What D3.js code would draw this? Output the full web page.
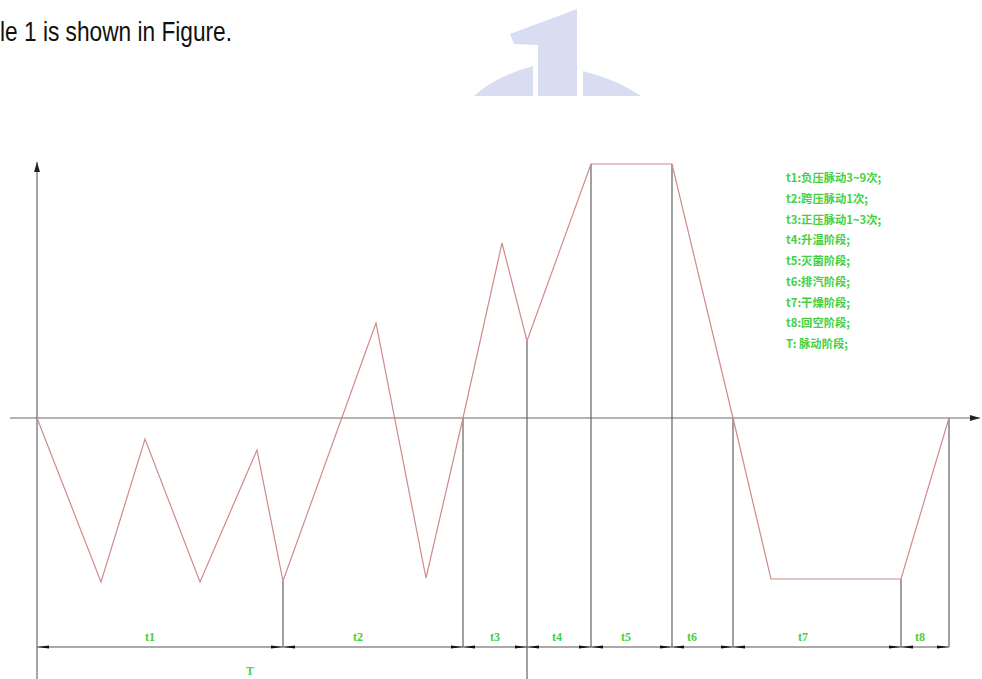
<!DOCTYPE html>
<html><head><meta charset="utf-8">
<script src="https://cdn.jsdelivr.net/npm/d3@7/dist/d3.min.js"></script>
<style>html,body{margin:0;padding:0;background:#fff;overflow:hidden}</style>
</head><body><svg id="c" width="982" height="679"></svg>
<script>
// ---- data ----
const timePts  = [0, 6.4, 10.8, 16.3, 22.0, 24.6, 33.9, 38.9, 42.6, 46.5, 49.0, 55.4, 63.5, 69.6, 73.4, 86.4, 91.2];
const pressure = [0, -16.4, -2.1, -16.4, -3.2, -16.3, 9.5, -16.0, 0, 17.5, 7.7, 25.4, 25.4, 0, -16.1, -16.1, 0];
const phaseNames  = ['t1','t2','t3','t4','t5','t6','t7','t8'];
const phaseBounds = [0, 24.6, 42.6, 49.0, 55.4, 63.5, 69.6, 86.4, 91.2];
const phaseLabelAt = [11.3, 32.1, 45.8, 52.0, 58.9, 65.5, 76.6, 88.3];
const cycleName   = 'T';
const cycleBounds = [0, 49.0];
const cycleLabelAt = 21.3;
const legendLines = ['t1:负压脉动3~9次;','t2:跨压脉动1次;','t3:正压脉动1~3次;','t4:升温阶段;','t5:灭菌阶段;','t6:排汽阶段;','t7:干燥阶段;','t8:回空阶段;','T: 脉动阶段;'];
const captionText = 'le 1 is shown in Figure.';

// ---- layout ----
const svg = d3.select('#c');
const x = d3.scaleLinear().domain([0, 91.2]).range([37, 949]);
const y = d3.scaleLinear().domain([0, 25.4]).range([418, 164]);
const axisCol = '#6a6a6a', extCol = '#555', red = '#cf8a8a', green = '#44d044';

// watermark
const wm = svg.append('g').attr('fill', '#d8ddf2');
wm.append('path').attr('d', 'M510,34 L577,9 L577,96 L538,96 L538,45 L514,44 Z');
wm.append('path').attr('d', 'M474,96 Q496,76 533,66 L533,96 Z');
wm.append('path').attr('d', 'M583,71 Q618,80 641,96 L583,96 Z');

// caption
svg.append('text').attr('x', 0).attr('y', 41).text(captionText)
  .attr('font-family', '"Liberation Sans Narrow","Liberation Sans",Arial,sans-serif')
  .attr('font-size', 28.5).attr('fill', '#111')
  .attr('textLength', 232).attr('lengthAdjust', 'spacingAndGlyphs');

// defs for arrows
const defs = svg.append('defs');
defs.append('marker').attr('id', 'axArrow').attr('viewBox', '0 0 10 6').attr('refX', 10).attr('refY', 3)
  .attr('markerWidth', 10).attr('markerHeight', 6).attr('markerUnits', 'userSpaceOnUse').attr('orient', 'auto')
  .append('path').attr('d', 'M0,0 L10,3 L0,6 Z').attr('fill', '#222');
defs.append('marker').attr('id', 'dimEnd').attr('viewBox', '0 0 12 4').attr('refX', 12).attr('refY', 2)
  .attr('markerWidth', 12).attr('markerHeight', 4).attr('markerUnits', 'userSpaceOnUse').attr('orient', 'auto')
  .append('path').attr('d', 'M0,0.6 L12,2 L0,3.4 Z').attr('fill', '#111');
defs.append('marker').attr('id', 'dimStart').attr('viewBox', '0 0 12 4').attr('refX', 0).attr('refY', 2)
  .attr('markerWidth', 12).attr('markerHeight', 4).attr('markerUnits', 'userSpaceOnUse').attr('orient', 'auto')
  .append('path').attr('d', 'M12,0.6 L0,2 L12,3.4 Z').attr('fill', '#111');

// axes
svg.append('line').attr('x1', x(-2.7)).attr('x2', x(94.3)).attr('y1', y(0)).attr('y2', y(0))
  .attr('stroke', axisCol).attr('stroke-width', 1.2).attr('marker-end', 'url(#axArrow)');
svg.append('line').attr('x1', x(0)).attr('x2', x(0)).attr('y1', 690).attr('y2', y(25.6))
  .attr('stroke', axisCol).attr('stroke-width', 1.2).attr('marker-end', 'url(#axArrow)');

// extension lines at phase boundaries
const dimY = 647, cycDimY = 683;
const valAt = t => { const i = timePts.findIndex(v => Math.abs(v - t) < 1e-6); return pressure[i]; };
phaseBounds.slice(1).forEach(b => {
  const bottom = (b === cycleBounds[1]) ? 690 : dimY;
  svg.append('line').attr('x1', x(b)).attr('x2', x(b)).attr('y1', y(valAt(b))).attr('y2', bottom)
    .attr('stroke', extCol).attr('stroke-width', 1.1);
});

// waveform
const pts = timePts.map((t, i) => [t, pressure[i]]);
svg.append('path').datum(pts)
  .attr('d', d3.line().x(d => x(d[0])).y(d => y(d[1])))
  .attr('fill', 'none').attr('stroke', red).attr('stroke-width', 1.2);

// dimension lines
phaseNames.forEach((n, i) => {
  const a = phaseBounds[i], b = phaseBounds[i + 1];
  svg.append('line').attr('x1', x(a)).attr('x2', x(b)).attr('y1', dimY).attr('y2', dimY)
    .attr('stroke', '#555').attr('stroke-width', 1)
    .attr('marker-start', 'url(#dimStart)').attr('marker-end', 'url(#dimEnd)');
  svg.append('text').attr('x', x(phaseLabelAt[i])).attr('y', dimY - 6).attr('text-anchor', 'middle')
    .attr('font-family', '"Liberation Serif",serif').attr('font-size', 12).attr('font-weight', 'bold')
    .attr('fill', green).text(n);
});
svg.append('line').attr('x1', x(cycleBounds[0])).attr('x2', x(cycleBounds[1])).attr('y1', cycDimY).attr('y2', cycDimY)
  .attr('stroke', '#555').attr('stroke-width', 1)
  .attr('marker-start', 'url(#dimStart)').attr('marker-end', 'url(#dimEnd)');
svg.append('text').attr('x', x(cycleLabelAt)).attr('y', 675).attr('text-anchor', 'middle')
  .attr('font-family', '"Liberation Serif",serif').attr('font-size', 12).attr('font-weight', 'bold')
  .attr('fill', green).text(cycleName);

// legend
svg.append('g').selectAll('text').data(legendLines).join('text')
  .attr('x', 786).attr('y', (d, i) => 182 + i * 20.75)
  .attr('font-family', '"Noto Sans CJK SC",sans-serif').attr('font-size', 11.3).attr('font-weight', 'bold')
  .attr('fill', green).text(d => d);
</script></body></html>
